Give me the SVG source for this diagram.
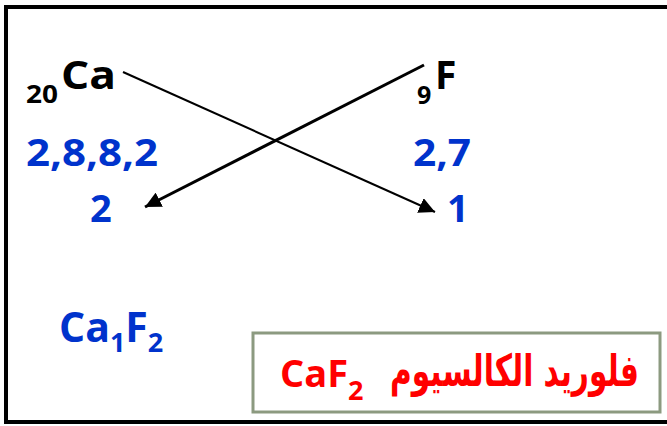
<svg xmlns="http://www.w3.org/2000/svg" width="667" height="426" viewBox="0 0 667 426">
<defs>
<style>
.t{font-family:"Open Sans","Liberation Sans",sans-serif;font-weight:bold}
.blk{fill:#000}
.blu{fill:#0033cc}
.red{fill:#ff0000}
</style>
<marker id="ah1" viewBox="0 0 10 10" refX="10" refY="5" markerWidth="16" markerHeight="16" markerUnits="userSpaceOnUse" orient="auto">
<path d="M0,0 L10,5 L0,10 z" fill="#000"/>
</marker>
</defs>
<rect x="0" y="0" width="667" height="426" fill="#fff"/>
<rect x="6" y="7" width="690" height="415" fill="none" stroke="#000" stroke-width="4"/>
<g id="ca">
<text class="t blk" x="26" y="103" font-size="25" textLength="32" lengthAdjust="spacingAndGlyphs">20</text>
<text class="t blk" x="61" y="89" font-size="39" textLength="55" lengthAdjust="spacingAndGlyphs">Ca</text>
</g>
<g id="f">
<text class="t blk" x="417" y="104" font-size="25">9</text>
<text class="t blk" x="435" y="89" font-size="39">F</text>
</g>
<g id="ca-config">
<text class="t blu" x="26" y="166" font-size="38" textLength="132" lengthAdjust="spacingAndGlyphs">2,8,8,2</text>
<text class="t blu" x="90" y="222" font-size="38">2</text>
</g>
<g id="f-config">
<text class="t blu" x="413" y="166" font-size="38" textLength="58" lengthAdjust="spacingAndGlyphs">2,7</text>
<text class="t blu" x="447" y="222" font-size="38">1</text>
</g>
<g id="connectors">
<line x1="123" y1="72" x2="435" y2="212" stroke="#000" stroke-width="2" marker-end="url(#ah1)"/>
<line x1="424" y1="65" x2="145" y2="207" stroke="#000" stroke-width="3" marker-end="url(#ah1)"/>
</g>
<g id="formula">
<text class="t blu" x="59" y="342" font-size="41">Ca<tspan font-size="27" dy="10">1</tspan><tspan dy="-10">F</tspan><tspan font-size="27" dy="10">2</tspan></text>
</g>
<g id="result">
<rect x="253" y="333" width="407" height="79" fill="#fff" stroke="#8c9a80" stroke-width="3"/>
<text class="t red" x="280" y="387" font-size="38">CaF<tspan font-size="27" dy="13">2</tspan></text>
<text x="639" y="386" font-family="'DejaVu Sans',sans-serif" font-weight="bold" font-size="44" text-anchor="start" direction="rtl" fill="#ff0000" textLength="249" lengthAdjust="spacingAndGlyphs">فلوريد الكالسيوم</text>
</g>
</svg>
